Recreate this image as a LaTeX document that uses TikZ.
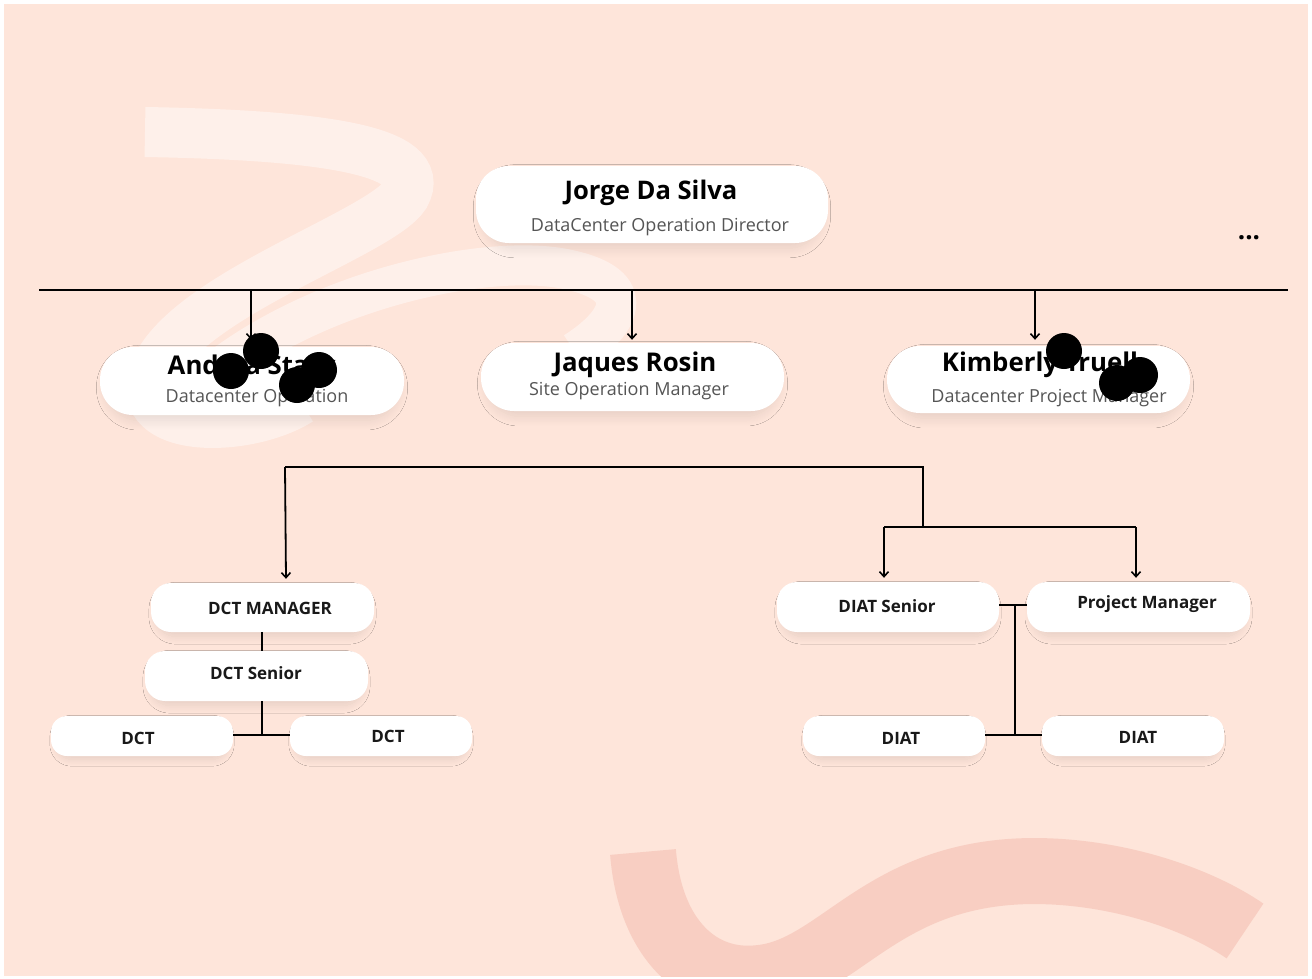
\documentclass[tikz,border=0pt]{standalone}
\usepackage{fontspec}
\setmainfont{Open Sans}
\usetikzlibrary{arrows.meta,shadows.blur,calc}
\definecolor{bgc}{HTML}{FEE5DA}
\definecolor{salmon}{HTML}{F8CEC2}
\definecolor{subg}{HTML}{555555}
\begin{document}
\begin{tikzpicture}[x=1pt,y=-1pt,
  box/.style={fill=white,draw=none,inner sep=0pt},
  bigbox/.style={box,rounded corners=33pt,
    blur shadow={shadow xshift=0pt,shadow yshift=-7pt,shadow blur radius=10pt,shadow blur steps=12,shadow opacity=10,shadow scale=0.96}},
  smallbox/.style={box,rounded corners=20pt,
    blur shadow={shadow xshift=0pt,shadow yshift=-6pt,shadow blur radius=8pt,shadow blur steps=12,shadow opacity=10,shadow scale=0.95}},
  tinybox/.style={box,rounded corners=16pt,
    blur shadow={shadow xshift=0pt,shadow yshift=-5pt,shadow blur radius=7pt,shadow blur steps=12,shadow opacity=10,shadow scale=0.94}},
  nm/.style={font=\fontsize{25.8}{28}\selectfont\bfseries,text=black,inner sep=0pt},
  sub/.style={font=\fontsize{18}{20}\selectfont,text=subg,inner sep=0pt},
  lbl/.style={font=\fontsize{17}{19}\selectfont\bfseries,text=black!90,inner sep=0pt},
  ln/.style={line width=1.8pt,black},
  arr/.style={ln,-{Straight Barb[length=5pt,width=9pt,line width=1.6pt]}},
  blot/.style={fill=black,draw=none}]
\useasboundingbox (0,0) rectangle (1312,978);
\fill[white] (0,0) rectangle (1312,978);
\fill[bgc] (4,4) rectangle (1308,976);
\begin{scope}
\clip (4,4) rectangle (1308,976);
% decorative squiggles
\draw[white,opacity=0.45,line width=50pt,line cap=butt]
  (145,132) .. controls (320,135) and (430,150) .. (405,195)
  .. controls (380,235) and (170,300) .. (152,380)
  .. controls (140,435) and (250,432) .. (300,400);
\draw[white,opacity=0.45,line width=40pt,line cap=butt]
  (215,372) .. controls (320,290) and (480,255) .. (560,268)
  .. controls (640,282) and (625,320) .. (575,352);
\draw[salmon,line width=66pt,line cap=butt]
  (643,852) .. controls (650,940) and (700,985) .. (760,978)
  .. controls (840,970) and (880,872) .. (1033,871)
  .. controls (1120,871) and (1200,900) .. (1245,931);
\end{scope}

% boxes
\node[bigbox,minimum width=352pt,minimum height=77pt] (jorge) at (652,204.5) {};
\node[bigbox,minimum width=304pt,minimum height=68pt] (andr) at (252,381) {};
\node[bigbox,minimum width=303pt,minimum height=68pt] (jaq) at (632.5,377) {};
\node[bigbox,minimum width=303pt,minimum height=67pt] (kim) at (1038.5,379.5) {};
\node[smallbox,minimum width=223pt,minimum height=49pt] (dctm) at (262.5,607.5) {};
\node[smallbox,minimum width=223pt,minimum height=50pt] (dcts) at (256.5,676) {};
\node[tinybox,minimum width=182pt,minimum height=40pt] (dcta) at (142,736) {};
\node[tinybox,minimum width=182pt,minimum height=40pt] (dctb) at (381,736) {};
\node[smallbox,minimum width=222pt,minimum height=50pt] (diats) at (888,607) {};
\node[smallbox,minimum width=223pt,minimum height=50pt] (pm) at (1138.5,607) {};
\node[tinybox,minimum width=182pt,minimum height=40pt] (diata) at (894,736) {};
\node[tinybox,minimum width=182pt,minimum height=40pt] (diatb) at (1133,736) {};

% texts
\node[nm,font=\fontsize{25.6}{28}\selectfont\bfseries] (jorgeN) at (651,193) {Jorge Da Silva};
\node[sub] (jorgeS) at (660,227) {DataCenter Operation Director};
\node[nm] (andrN) at (252,365) {Andrea Stark};
\node[sub] (andrS) at (257,398) {Datacenter Operation};
\node[nm] (jaqN) at (635,365) {Jaques Rosin};
\node[sub] (jaqS) at (629,391) {Site Operation Manager};
\node[nm] (kimN) at (1040,365) {Kimberly Truell};
\node[sub] (kimS) at (1049,398) {Datacenter Project Manager};
\node[lbl] (dctmT) at (270,608) {DCT MANAGER};
\node[lbl] (dctsT) at (256,673) {DCT Senior};
\node[lbl] (dctaT) at (138,738) {DCT};
\node[lbl] (dctbT) at (388,736) {DCT};
\node[lbl] (diatsT) at (887,606) {DIAT Senior};
\node[lbl] (pmT) at (1147,604) {Project Manager};
\node[lbl] (diataT) at (901,738) {DIAT};
\node[lbl] (diatbT) at (1138,737) {DIAT};
\node[font=\fontsize{26}{28}\selectfont\bfseries,inner sep=0pt] (dots) at (1249,238) {...};

% top bus
\coordinate (busL) at (39,290);
\coordinate (busR) at (1288,290);
\draw[ln] (busL) -- (busR);
\draw[arr] (251,290) -- ($(251,290 |- andr.north)+(0,-7)$);
\draw[arr] (632,290) -- ($(632,290 |- jaq.north)+(0,-3)$);
\draw[arr] (1035,290) -- ($(1035,290 |- kim.north)+(0,-6)$);

% lower bracket
\coordinate (b1) at (285,467);
\coordinate (b2) at (923,467);
\coordinate (b3) at (923,527);
\coordinate (b4) at (884,527);
\coordinate (b5) at (1136,527);
\draw[ln] (b1) -- (b2) -- (b3);
\draw[ln] (b4) -- (b5);
\draw[arr] (b1) -- ($(286,0 |- dctm.north)+(0,-4)$);
\draw[arr] (b4) -- ($(b4 |- diats.north)+(0,-4)$);
\draw[arr] (b5) -- ($(b5 |- pm.north)+(0,-4)$);

% DCT tree
\coordinate (j1) at (262,735);
\draw[ln] (262,0 |- dctm.south) -- (262,0 |- dcts.north);
\draw[ln] (262,0 |- dcts.south) -- (j1);
\draw[ln] (dcta.east |- j1) -- (dctb.west |- j1);

% DIAT tree
\coordinate (j2) at (1015,605);
\coordinate (j3) at (1015,735);
\draw[ln] (diats.east |- j2) -- (pm.west |- j2);
\draw[ln] (j2) -- (j3);
\draw[ln] (diata.east |- j3) -- (diatb.west |- j3);

% black blots
\fill[blot] (261,351) circle (18);
\fill[blot] (231,371) circle (18);
\fill[blot] (319,370) circle (18);
\fill[blot] (297,385) circle (18);
\fill[blot] (1064,351) circle (18);
\fill[blot] (1140,375) circle (18);
\fill[blot] (1117,383) circle (18);
\end{tikzpicture}
\end{document}
